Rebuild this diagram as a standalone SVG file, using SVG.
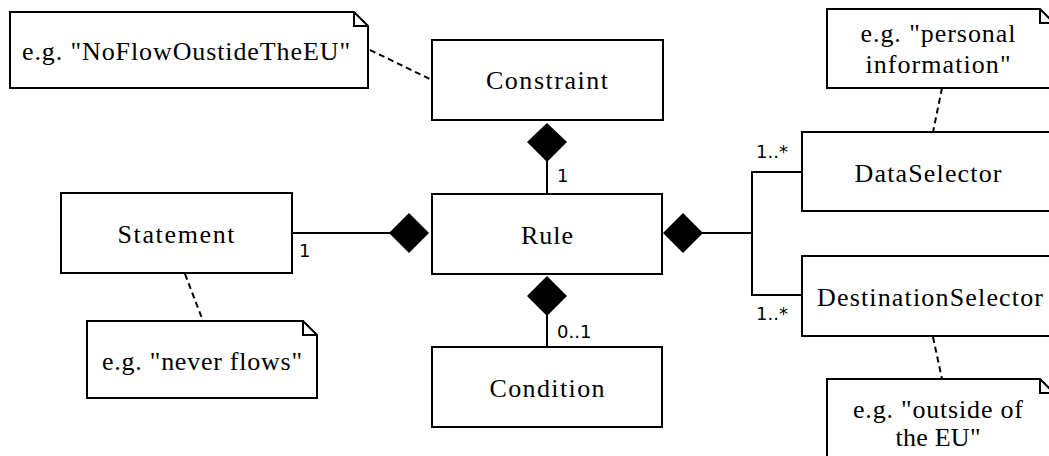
<svg xmlns="http://www.w3.org/2000/svg" width="1049" height="456" viewBox="0 0 1049 456">
<style>
.box{fill:#fff;stroke:#000;stroke-width:2}
.note{fill:#fff;stroke:#000;stroke-width:2;stroke-linejoin:miter}
.fold{fill:none;stroke:#000;stroke-width:2}
.ln{fill:none;stroke:#000;stroke-width:2}
.dash{fill:none;stroke:#000;stroke-width:2;stroke-dasharray:6,4}
.dia{fill:#000;stroke:none}
</style>
<rect width="1049" height="456" fill="#fff"/>
<g id="connectors">
<line class="ln" x1="292" y1="233" x2="390" y2="233"/>
<line class="ln" x1="547" y1="161" x2="547" y2="194"/>
<line class="ln" x1="547" y1="315" x2="547" y2="347"/>
<polyline class="ln" points="702,233 752,233"/>
<polyline class="ln" points="802,172 752,172 752,295 802,295"/>
<line class="dash" x1="370" y1="50" x2="432" y2="80"/>
<line class="dash" x1="942" y1="88" x2="933" y2="132"/>
<line class="dash" x1="933" y1="337" x2="942" y2="379"/>
<line class="dash" x1="185" y1="274" x2="203" y2="321"/>
<polygon class="dia" points="547,123 567,142 547,162 527,142"/>
<polygon class="dia" points="547,276 567,296 547,316 527,296"/>
<polygon class="dia" points="389,233 409,213 429,233 409,253"/>
<polygon class="dia" points="663,233 683,213 703,233 683,253"/>
<g font-family="DejaVu Sans, Liberation Sans, sans-serif" font-size="18" fill="#000">
<text x="557" y="182">1</text>
<text x="299" y="257">1</text>
<text x="557" y="338">0..1</text>
<text x="756" y="158">1..*</text>
<text x="756" y="320">1..*</text>
</g>
</g>
<g font-family="Liberation Serif, Times New Roman, serif" font-size="26" fill="#000" text-anchor="middle">
<g id="note-noflow">
<path class="note" d="M10,12 H354 L368,26 V88 H10 Z"/>
<path class="fold" d="M354,12 V26 H368"/>
<text x="186" y="60" textLength="328" lengthAdjust="spacing">e.g. "NoFlowOustideTheEU"</text>
</g>
<g id="constraint">
<rect class="box" x="432" y="40" width="231" height="80"/>
<text x="547" y="89" textLength="122" lengthAdjust="spacing">Constraint</text>
</g>
<g id="rule">
<rect class="box" x="432" y="194" width="230" height="80"/>
<text x="547" y="244" textLength="52" lengthAdjust="spacing">Rule</text>
</g>
<g id="condition">
<rect class="box" x="432" y="347" width="230" height="80"/>
<text x="547" y="397" textLength="115" lengthAdjust="spacing">Condition</text>
</g>
<g id="statement">
<rect class="box" x="61" y="193" width="231" height="80"/>
<text x="176" y="243" textLength="117" lengthAdjust="spacing">Statement</text>
</g>
<g id="note-neverflows">
<path class="note" d="M87,321 H303 L317,335 V398 H87 Z"/>
<path class="fold" d="M303,321 V335 H317"/>
<text x="202" y="370" textLength="200" lengthAdjust="spacing">e.g. "never flows"</text>
</g>
<g id="dataselector">
<rect class="box" x="802" y="132" width="252" height="79"/>
<text x="928" y="182" textLength="147" lengthAdjust="spacing">DataSelector</text>
</g>
<g id="destinationselector">
<rect class="box" x="802" y="256" width="252" height="80"/>
<text x="930" y="306" textLength="226" lengthAdjust="spacing">DestinationSelector</text>
</g>
<g id="note-personal">
<path class="note" d="M827,9 H1040 L1054,23 V88 H827 Z"/>
<path class="fold" d="M1040,9 V23 H1054"/>
<text x="938" y="42" textLength="155" lengthAdjust="spacing">e.g. "personal</text>
<text x="938" y="73" textLength="145" lengthAdjust="spacing">information"</text>
</g>
<g id="note-outside">
<path class="note" d="M827,379 H1040 L1054,393 V470 H827 Z"/>
<path class="fold" d="M1040,379 V393 H1054"/>
<text x="938" y="418" textLength="170" lengthAdjust="spacing">e.g. "outside of</text>
<text x="938" y="446" textLength="85" lengthAdjust="spacing">the EU"</text>
</g>
</g>
</svg>
